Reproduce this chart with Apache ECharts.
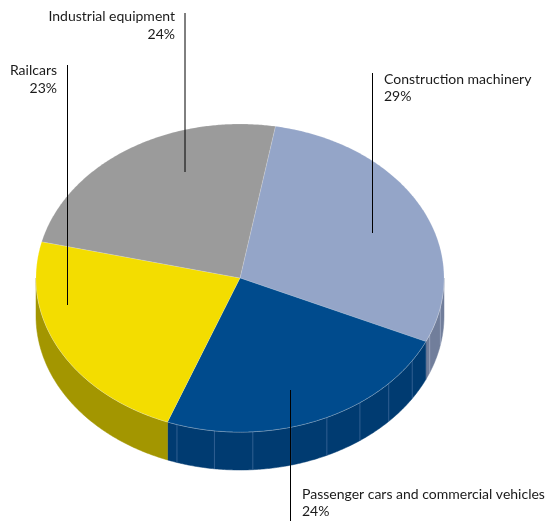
<!DOCTYPE html>
<html><head><meta charset="utf-8">
<script src="https://cdn.jsdelivr.net/npm/echarts@6/dist/echarts.min.js"></script>
<style>html,body{margin:0;padding:0;background:#fff}#c{width:550px;height:521px}</style>
</head><body><div id="c"></div>
<script>
// ---- data ----
const categories = ['Construction machinery', 'Passenger cars and commercial vehicles', 'Railcars', 'Industrial equipment'];
const values = [29, 24, 23, 24];

// ---- style ----
const topColors = ['#94a5c8', '#004b8d', '#f3dd00', '#9b9b9b'];
const sideColors = ['#717e9b', '#003b71', '#a39600', '#6e6e6e'];
const facetColors = ['rgba(200,210,230,0.55)', 'rgba(120,150,195,0.5)', 'rgba(0,0,0,0)', 'rgba(0,0,0,0)'];
const G = { cx: 240, cy: 278, rx: 204, ry: 154, depth: 38, start: -80, facetStep: 10.8 };
const labelLayout = [
  { tx: 384, ty: 70.5, align: 'left', lx: 372.5, ly0: 73, ly1: 233 },
  { tx: 302, ty: 485.5, align: 'left', lx: 290.5, ly0: 390, ly1: 521 },
  { tx: 57, ty: 62, align: 'right', lx: 67.5, ly0: 65, ly1: 305 },
  { tx: 175, ty: 8, align: 'right', lx: 185, ly0: 13, ly1: 172 }
];
const FONT = '14px Lato, "Noto Sans", sans-serif';

const total = values.reduce((a, b) => a + b, 0);
const cum = []; let acc = 0; values.forEach(v => { cum.push(acc); acc += v; });

function pt(deg, dy) {
  const r = deg * Math.PI / 180;
  return [G.cx + G.rx * Math.cos(r), G.cy + G.ry * Math.sin(r) + (dy || 0)];
}
function arc(a0, a1, dy) {
  const n = Math.max(2, Math.ceil(Math.abs(a1 - a0) / 0.5));
  const out = [];
  for (let i = 0; i <= n; i++) out.push(pt(a0 + (a1 - a0) * i / n, dy));
  return out;
}

function renderItem(params, api) {
  const i = params.dataIndex;
  const v = api.value(0);
  const a0 = G.start + cum[i] / total * 360;
  const a1 = a0 + v / total * 360;
  const children = [];
  // visible side walls (front half)
  for (let k = -1; k <= 1; k++) {
    const s = Math.max(a0, 360 * k), e = Math.min(a1, 180 + 360 * k);
    if (e > s) {
      const topArc = arc(s, e, 0);
      const botArc = arc(e, s, G.depth);
      children.push({ type: 'polygon', shape: { points: topArc.concat(botArc) },
        style: { fill: sideColors[i], stroke: sideColors[i], lineWidth: 0.5 } });
      const f0 = Math.ceil(s / G.facetStep) * G.facetStep;
      for (let f = f0; f < e; f += G.facetStep) {
        if (f - s < 2 || e - f < 2) continue;
        const p1 = pt(f, 0), p2 = pt(f, G.depth);
        children.push({ type: 'line', shape: { x1: p1[0], y1: p1[1], x2: p2[0], y2: p2[1] },
          style: { stroke: facetColors[i], lineWidth: 0.8 } });
      }
      children.push({ type: 'polyline', shape: { points: topArc },
        style: { stroke: 'rgba(255,255,255,0.55)', lineWidth: 0.8, fill: null } });
    }
  }
  // top face
  children.push({ type: 'polygon', shape: { points: [[G.cx, G.cy]].concat(arc(a0, a1, 0)) },
    style: { fill: topColors[i], stroke: 'rgba(255,255,255,0.25)', lineWidth: 0.6 } });
  return { type: 'group', children };
}

const graphics = [];
categories.forEach((c, i) => {
  const L = labelLayout[i];
  graphics.push({ type: 'line', z: 10, shape: { x1: L.lx, y1: L.ly0, x2: L.lx, y2: L.ly1 },
    style: { stroke: '#000', lineWidth: 1 } });
  graphics.push({ type: 'text', z: 10, x: L.tx, y: L.ty,
    style: { text: c + '\n' + values[i] + '%', font: FONT, fill: '#1a1a1a',
      align: L.align, verticalAlign: 'top', lineHeight: 17.5 } });
});

const chart = echarts.init(document.getElementById('c'), null, { renderer: 'canvas' });
chart.setOption({
  animation: false,
  backgroundColor: '#fff',
  series: [{
    type: 'custom',
    coordinateSystem: 'none',
    renderItem,
    data: values.map((v, i) => ({ name: categories[i], value: v }))
  }],
  graphic: graphics
});
</script></body></html>
